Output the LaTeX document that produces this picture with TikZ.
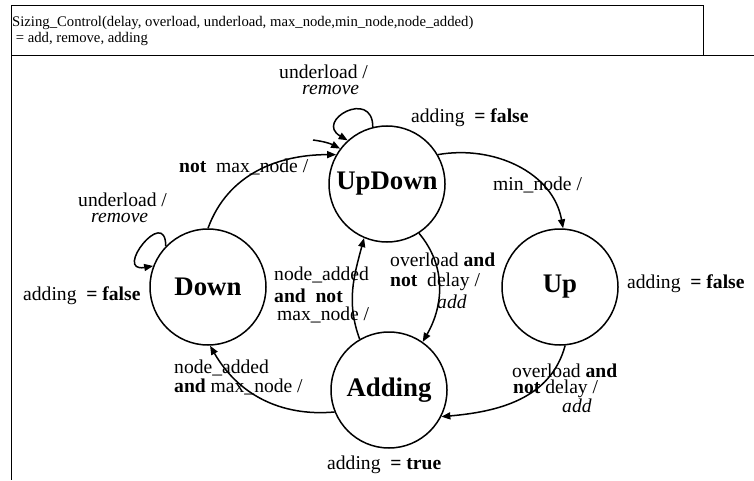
\documentclass[tikz,border=0pt]{standalone}
\usepackage{fontspec}
\setmainfont{Liberation Serif}
\usetikzlibrary{arrows.meta}
\begin{document}
\begin{tikzpicture}[x=1pt, y=1pt, state/.style={draw, circle, line width=1.5pt, minimum size=116pt, inner sep=0pt, font=\fontsize{26.8}{28}\selectfont\bfseries}, lbl/.style={inner sep=0pt, align=left, font=\fontsize{19.6}{20}\selectfont}, trans/.style={line width=1.5pt, -{Triangle[length=9pt, width=7pt]}}]
\useasboundingbox (0,0) rectangle (754,480);
\draw[line width=0.9pt] (11,475) rectangle (703,425);
\draw[line width=0.9pt] (11,425) -- (754,425);
\draw[line width=0.9pt] (11,425) -- (11,0);
\node[anchor=base west, inner sep=0pt, align=left, font=\fontsize{14.7}{16}\selectfont] (title) at (12,437) {Sizing\_Control(delay, overload, underload, max\_node,min\_node,node\_added)\\\ = add, remove, adding};
\node[state] (updown) at (387,296) {UpDown};
\node[state] (down) at (208,193) {Down};
\node[state] (up) at (560,193) {Up};
\node[state] (adding) at (389,90) {Adding};
\coordinate (start) at (313,340);
\draw[trans] (start) to[bend left=10] (updown.143);
\draw[trans] (updown.104) to[out=90, in=150, looseness=3.5] (updown.132);
\draw[trans] (down.136) to[out=90, in=190, looseness=4.5] (down.159);
\draw[trans] (down.90) to[out=70, in=180] (updown.150);
\draw[trans] (updown.30) to[out=10, in=100] (up.87);
\draw[trans] (updown.-57) to[out=-50, in=60] (adding.55);
\draw[trans] (adding.120) to[out=110, in=255] (updown.247);
\draw[trans] (adding.202) to[out=185, in=-60] (down.-88);
\draw[trans] (up.-85) to[out=-105, in=5] (adding.-27);
\node[lbl, anchor=base west] (loopud) at (279,385) {underload /\\[-4pt]\hspace*{23pt}\textit{remove}};
\node[lbl, anchor=base west] (loopd) at (78,258) {underload /\\[-4pt]\hspace*{13pt}\textit{remove}};
\node[lbl, anchor=base west] (fud) at (411,357) {adding\ \ \textbf{= false}};
\node[lbl, anchor=base west] (fd) at (23,180) {adding\ \ \textbf{= false}};
\node[lbl, anchor=base west] (fu) at (627,192) {adding\ \ \textbf{= false}};
\node[lbl, anchor=base west] (ta) at (327,11) {adding\ \ \textbf{= true}};
\node[lbl, anchor=base west] (notmax) at (179,308) {\textbf{not}\ \ max\_node /};
\node[lbl, anchor=base west] (minn) at (493,290) {min\_node /};
\node[lbl, anchor=base west] (ovl1) at (390,172) {overload \textbf{and}\\\textbf{not}\ \ delay /\\[2pt]\hspace*{47pt}\textit{add}};
\node[lbl, anchor=base west] (nadd1) at (274,160) {node\_added\\[2pt]\textbf{and\ \ not}\\[-2pt]\hspace*{3pt}max\_node /};
\node[lbl, anchor=base west] (nadd2) at (174,88) {node\_added\\[-1pt]\textbf{and} max\_node /};
\node[lbl, anchor=base west] (ovl2) at (512,68) {overload \textbf{and}\\[-4pt]\hspace*{1pt}\textbf{not} delay /\\[-1pt]\hspace*{50pt}\textit{add}};
\end{tikzpicture}
\end{document}
